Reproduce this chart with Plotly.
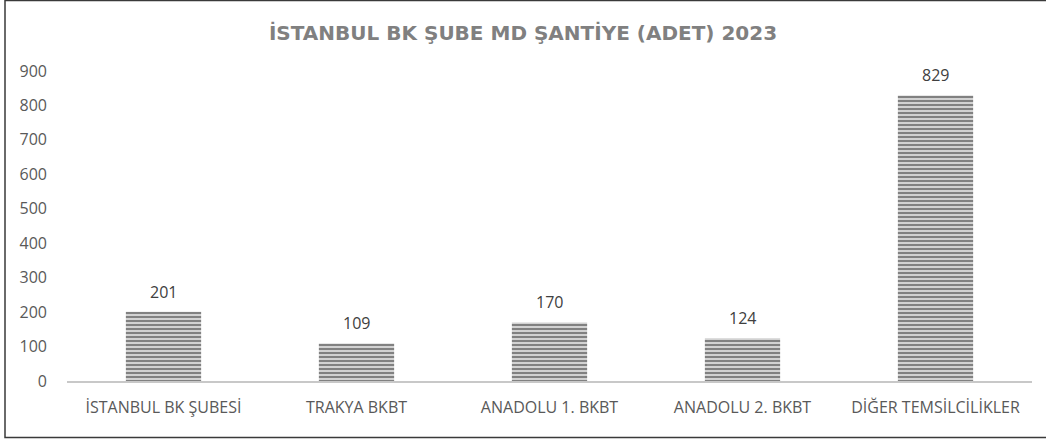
import plotly.graph_objects as go

categories = ["İSTANBUL BK ŞUBESİ", "TRAKYA BKBT", "ANADOLU 1. BKBT", "ANADOLU 2. BKBT", "DİĞER TEMSİLCİLİKLER"]
values = [201, 109, 170, 124, 829]
title_text = "İSTANBUL BK ŞUBE MD ŞANTİYE (ADET) 2023"
y_ticks = [0, 100, 200, 300, 400, 500, 600, 700, 800, 900]

W, H = 1046, 441
L, R, T, B = 67, 14, 71, 60
pw, ph = W - L - R, H - T - B

fig = go.Figure()
fig.add_trace(go.Bar(
    x=categories, y=values,
    marker=dict(
        color="#cfcfcf",
        line=dict(width=0),
        pattern=dict(shape="-", fgcolor="#787878", bgcolor="#d2d2d2", size=4, solidity=0.45, fillmode="replace"),
    ),
    hoverinfo="x+y",
))

annotations = []
for c, v in zip(categories, values):
    annotations.append(dict(x=c, y=v, text=str(v), showarrow=False, xref="x", yref="y",
                            yanchor="bottom", yshift=7,
                            font=dict(family="Open Sans", size=16, color="#404040")))

def px2x(px):
    return (px - L) / pw

def py2y(py):
    return (H - B - py) / ph

fig.update_layout(
    width=W, height=H,
    margin=dict(l=L, r=R, t=T, b=B),
    paper_bgcolor="white", plot_bgcolor="white",
    bargap=0.61,
    showlegend=False,
    title=dict(text="<b>" + title_text + "</b>", x=0.5, xanchor="center", y=1 - 33 / H, yanchor="middle",
               font=dict(family="DejaVu Sans", size=20, color="#808080")),
    xaxis=dict(showgrid=False, showline=True, linecolor="#c8c8c8", linewidth=2, ticks="",
               ticklabelstandoff=11,
               tickfont=dict(family="Open Sans", size=16, color="#595959"), fixedrange=True),
    yaxis=dict(range=[0, 900], tickvals=y_ticks, showgrid=False, zeroline=False, showline=False,
               ticks="", ticklabelstandoff=19,
               tickfont=dict(family="Open Sans", size=16, color="#595959")),
    annotations=annotations,
    shapes=[dict(type="rect", xref="paper", yref="paper",
                 x0=px2x(5), x1=px2x(1060), y0=py2y(437.5), y1=py2y(0.5),
                 line=dict(color="#3a3a3a", width=1.5), fillcolor="rgba(0,0,0,0)", layer="above")],
)

fig.write_html("out.html", config={"displayModeBar": False},
               post_script="document.body.style.margin='0';document.body.style.overflow='hidden';")
